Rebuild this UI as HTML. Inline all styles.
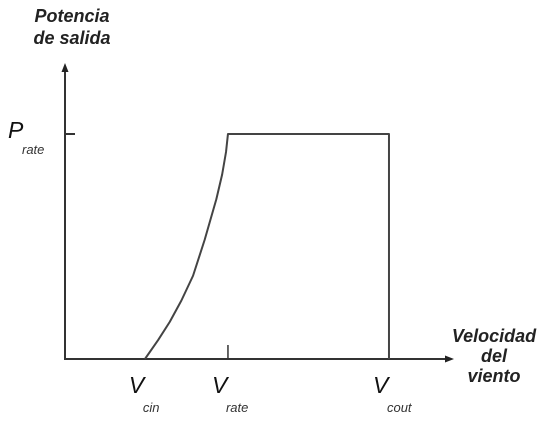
<!DOCTYPE html>
<html><head><meta charset="utf-8"><style>
body{margin:0;background:#fff;width:548px;height:421px;overflow:hidden}
svg{display:block}
.t{font-family:"Liberation Sans",sans-serif;font-weight:bold;font-style:italic;fill:#222;font-size:18px}
.v{font-family:"Liberation Sans",sans-serif;font-style:italic;fill:#111;font-size:23px}
.s{font-family:"Liberation Sans",sans-serif;font-style:italic;fill:#333;font-size:13px}
</style></head><body>
<svg id="c" width="548" height="421">
<text class="t" x="72" y="22" text-anchor="middle"><tspan x="72">Potencia</tspan><tspan x="72" dy="22">de salida</tspan></text>
<text class="t" x="494" y="342" text-anchor="middle"><tspan x="494">Velocidad</tspan><tspan x="494" dy="20">del</tspan><tspan x="494" dy="20">viento</tspan></text>
</svg>
<script>
const speeds=[20.6,24,27,30,33,36,39,40.5,41.5,42,83.5];
const power=[0,0.084,0.165,0.26,0.37,0.53,0.71,0.82,0.92,1,1];
const xTickNames=["cin","rate","cout"];
const xTickVals=[20.6,42,83.5];
const yTickNames=["rate"];
const yTickVals=[1];
const X=v=>65+v*3.88, Y=p=>359-p*225;
const svg=document.getElementById('c'),NS='http://www.w3.org/2000/svg';
function mk(t,a){const e=document.createElementNS(NS,t);for(const k in a)e.setAttribute(k,a[k]);svg.appendChild(e);return e;}
let e=mk('line',{x1:65,y1:359,x2:65,y2:70,stroke:'#333','stroke-width':2});


e=mk('polygon',{points:'65,63 61.5,72 68.5,72',fill:'#222'});


e=mk('line',{x1:64,y1:359,x2:446,y2:359,stroke:'#333','stroke-width':2});


e=mk('polygon',{points:'454,359 445,355.5 445,362.5',fill:'#222'});


yTickVals.forEach((v,i)=>{
 let l=mk('line',{x1:65,x2:75,y1:Y(v),y2:Y(v),stroke:'#333','stroke-width':2});
 
 
 let t=mk('text',{x:8,y:Y(v)+4,class:'v'});t.textContent='P';
 
 
 let s=mk('text',{x:22,y:Y(v)+20,class:'s'});s.textContent=yTickNames[i];
 
 
});
xTickVals.forEach((v,i)=>{
 if(i===1){let l=mk('line',{x1:X(v),x2:X(v),y1:345,y2:359,stroke:'#333','stroke-width':1.5});
 
 }
 let t=mk('text',{x:X(v)-16,y:393,class:'v'});t.textContent='V';
 
 
 let s=mk('text',{x:X(v)-2,y:412,class:'s'});s.textContent=xTickNames[i];
 
 
});
let d=speeds.map((v,i)=>(i?'L':'M')+X(v)+','+Y(power[i])).join(' ')+' L'+X(speeds[speeds.length-1])+',359';
e=mk('path',{d:d,fill:'none',stroke:'#444','stroke-width':2,'stroke-linejoin':'round'});


</script>
</body></html>
